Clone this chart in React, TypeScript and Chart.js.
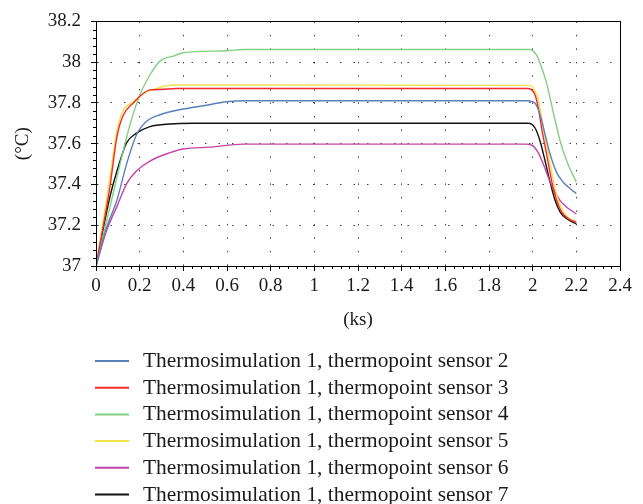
import React, { useEffect, useRef } from "react";
import { Chart, registerables } from "chart.js";

Chart.register(...registerables);

// ---- axis ticks ----
const xTickValues = [0, 0.2, 0.4, 0.6, 0.8, 1, 1.2, 1.4, 1.6, 1.8, 2, 2.2, 2.4];
const xTickLabels = ["0", "0.2", "0.4", "0.6", "0.8", "1", "1.2", "1.4", "1.6", "1.8", "2", "2.2", "2.4"];
const yTickValues = [37, 37.2, 37.4, 37.6, 37.8, 38, 38.2];
const yTickLabels = ["37", "37.2", "37.4", "37.6", "37.8", "38", "38.2"];

// ---- series ----
const seriesLabels = [
  "Thermosimulation 1, thermopoint sensor 2",
  "Thermosimulation 1, thermopoint sensor 3",
  "Thermosimulation 1, thermopoint sensor 4",
  "Thermosimulation 1, thermopoint sensor 5",
  "Thermosimulation 1, thermopoint sensor 6",
  "Thermosimulation 1, thermopoint sensor 7",
];
const seriesColors = ["#5a80b8", "#f42a2a", "#82d082", "#f2e24a", "#c443a6", "#111111"];

// sensor 2 (blue)
const timeS2 = [0, 0.049, 0.095, 0.14, 0.186, 0.232, 0.293, 0.399, 0.491, 0.598, 0.69, 1.975, 2.011, 2.034, 2.057, 2.08, 2.11, 2.141, 2.171, 2.2];
const tempS2 = [37, 37.19, 37.32, 37.5, 37.645, 37.71, 37.742, 37.77, 37.786, 37.806, 37.811, 37.811, 37.798, 37.742, 37.645, 37.548, 37.458, 37.41, 37.38, 37.356];
// sensor 3 (red)
const timeS3 = [0, 0.064, 0.095, 0.122, 0.171, 0.247, 0.293, 0.369, 1.98, 2.011, 2.026, 2.041, 2.064, 2.087, 2.11, 2.133, 2.164, 2.2];
const tempS3 = [37, 37.39, 37.629, 37.733, 37.8, 37.864, 37.866, 37.871, 37.871, 37.839, 37.774, 37.677, 37.548, 37.418, 37.321, 37.264, 37.232, 37.215];
// sensor 4 (green)
const timeS4 = [0, 0.064, 0.11, 0.156, 0.201, 0.247, 0.293, 0.354, 0.399, 0.598, 0.674, 1.985, 2.019, 2.034, 2.064, 2.095, 2.126, 2.156, 2.179, 2.2];
const tempS4 = [37, 37.29, 37.5, 37.694, 37.84, 37.937, 38.005, 38.03, 38.046, 38.056, 38.062, 38.062, 38.033, 37.993, 37.896, 37.75, 37.612, 37.515, 37.458, 37.413];
// sensor 5 (yellow)
const timeS5 = [0, 0.064, 0.095, 0.122, 0.171, 0.232, 0.262, 0.354, 1.985, 2.019, 2.034, 2.049, 2.072, 2.095, 2.118, 2.141, 2.171, 2.2];
const tempS5 = [37, 37.435, 37.661, 37.758, 37.807, 37.855, 37.866, 37.888, 37.886, 37.839, 37.774, 37.677, 37.548, 37.418, 37.321, 37.264, 37.232, 37.218];
// sensor 6 (magenta)
const timeS6 = [0, 0.049, 0.095, 0.14, 0.186, 0.247, 0.339, 0.399, 0.522, 0.674, 1.97, 2.003, 2.026, 2.049, 2.072, 2.095, 2.126, 2.156, 2.2];
const tempS6 = [37, 37.175, 37.29, 37.403, 37.467, 37.515, 37.556, 37.574, 37.583, 37.598, 37.598, 37.588, 37.555, 37.499, 37.434, 37.377, 37.321, 37.288, 37.256];
// sensor 7 (black)
const timeS7 = [0, 0.064, 0.11, 0.14, 0.186, 0.247, 0.339, 0.446, 1.98, 2.011, 2.034, 2.057, 2.08, 2.103, 2.126, 2.156, 2.2];
const tempS7 = [37, 37.34, 37.515, 37.604, 37.652, 37.684, 37.697, 37.7, 37.7, 37.677, 37.612, 37.515, 37.41, 37.321, 37.264, 37.232, 37.207];

const seriesTimes = [timeS2, timeS3, timeS4, timeS5, timeS6, timeS7];
const seriesTemps = [tempS2, tempS3, tempS4, tempS5, tempS6, tempS7];

const SERIF = "'Liberation Serif', 'Times New Roman', serif";

const frameAndMinorTicks = {
  id: "frameAndMinorTicks",
  afterDraw(chart: any) {
    const { ctx, chartArea, scales } = chart;
    const xs = scales.x;
    const ys = scales.y;
    ctx.save();
    ctx.strokeStyle = "#000";
    ctx.lineWidth = 1;
    ctx.beginPath();
    for (let i = 0; i <= 60; i++) {
      if (i % 5 === 0) continue;
      const px = Math.round(xs.getPixelForValue(i * 0.04)) + 0.5;
      ctx.moveTo(px, Math.round(chartArea.bottom));
      ctx.lineTo(px, Math.round(chartArea.bottom) + 3);
    }
    for (let i = 0; i <= 30; i++) {
      if (i % 5 === 0) continue;
      const py = Math.round(ys.getPixelForValue(37 + i * 0.04)) + 0.5;
      ctx.moveTo(Math.round(chartArea.left), py);
      ctx.lineTo(Math.round(chartArea.left) - 3, py);
    }
    ctx.stroke();
    ctx.strokeRect(
      Math.round(chartArea.left) + 0.5,
      Math.round(chartArea.top) + 0.5,
      Math.round(chartArea.right) - Math.round(chartArea.left),
      Math.round(chartArea.bottom) - Math.round(chartArea.top)
    );
    ctx.restore();
  },
};

const listLegend = {
  id: "listLegend",
  afterDraw(chart: any) {
    const { ctx } = chart;
    ctx.save();
    ctx.font = `21.4px ${SERIF}`;
    ctx.textBaseline = "alphabetic";
    ctx.textAlign = "left";
    chart.data.datasets.forEach((ds: any, i: number) => {
      const y = 361 + i * 26.7;
      ctx.strokeStyle = ds.borderColor;
      ctx.lineWidth = 2;
      ctx.beginPath();
      ctx.moveTo(95, y);
      ctx.lineTo(129, y);
      ctx.stroke();
      ctx.fillStyle = "#1a1a1a";
      ctx.fillText(ds.label, 143, y + 6);
    });
    ctx.restore();
  },
};

export default function App() {
  const ref = useRef<HTMLCanvasElement | null>(null);
  useEffect(() => {
    if (!ref.current) return;
    const datasets = seriesLabels.map((label, i) => ({
      label,
      data: seriesTimes[i].map((t, j) => ({ x: t, y: seriesTemps[i][j] })),
      borderColor: seriesColors[i],
      backgroundColor: seriesColors[i],
      borderWidth: 1.4,
      pointRadius: 0,
      cubicInterpolationMode: "monotone" as const,
      fill: false,
    }));
    const chart = new Chart(ref.current, {
      type: "line",
      data: { datasets },
      options: {
        animation: false,
        responsive: false,
        layout: { padding: { left: 0, right: 23, top: 19, bottom: 168 } },
        plugins: { legend: { display: false }, tooltip: { enabled: false } },
        scales: {
          x: {
            type: "linear",
            min: 0,
            max: 2.4,
            afterBuildTicks: (s: any) => {
              s.ticks = xTickValues.map((v) => ({ value: v }));
            },
            afterFit: (s: any) => {
              s.height = 70;
            },
            ticks: {
              callback: (_v: any, i: number) => xTickLabels[i],
              color: "#1a1a1a",
              font: { family: SERIF, size: 19 },
              padding: 4,
              maxRotation: 0,
            },
            grid: {
              color: "rgba(0,0,0,0.75)",
              lineWidth: 1,
              tickLength: 5,
              tickColor: "#000",
            },
            border: { display: true, color: "#000", width: 1, dash: [1.5, 12] },
            title: {
              display: true,
              text: "(ks)",
              color: "#1a1a1a",
              font: { family: SERIF, size: 19 },
              padding: { top: 0, bottom: 5 },
            },
          },
          y: {
            type: "linear",
            min: 37,
            max: 38.2,
            afterBuildTicks: (s: any) => {
              s.ticks = yTickValues.map((v) => ({ value: v }));
            },
            afterFit: (s: any) => {
              s.width = 96;
            },
            ticks: {
              callback: (_v: any, i: number) => yTickLabels[i],
              color: "#1a1a1a",
              font: { family: SERIF, size: 19 },
              padding: 10,
            },
            grid: {
              color: "rgba(0,0,0,0.75)",
              lineWidth: 1,
              tickLength: 5,
              tickColor: "#000",
            },
            border: { display: true, color: "#000", width: 1, dash: [1.5, 12] },
            title: {
              display: true,
              text: "(°C)",
              color: "#1a1a1a",
              font: { family: SERIF, size: 19 },
              padding: { top: 12, bottom: 0 },
            },
          },
        },
      },
      plugins: [frameAndMinorTicks, listLegend],
    });
    return () => chart.destroy();
  }, []);
  return (
    <div style={{ position: "absolute", left: 0, top: 0, width: 643, height: 504, background: "#fff" }}>
      <canvas ref={ref} width={643} height={504} style={{ display: "block" }} />
    </div>
  );
}
